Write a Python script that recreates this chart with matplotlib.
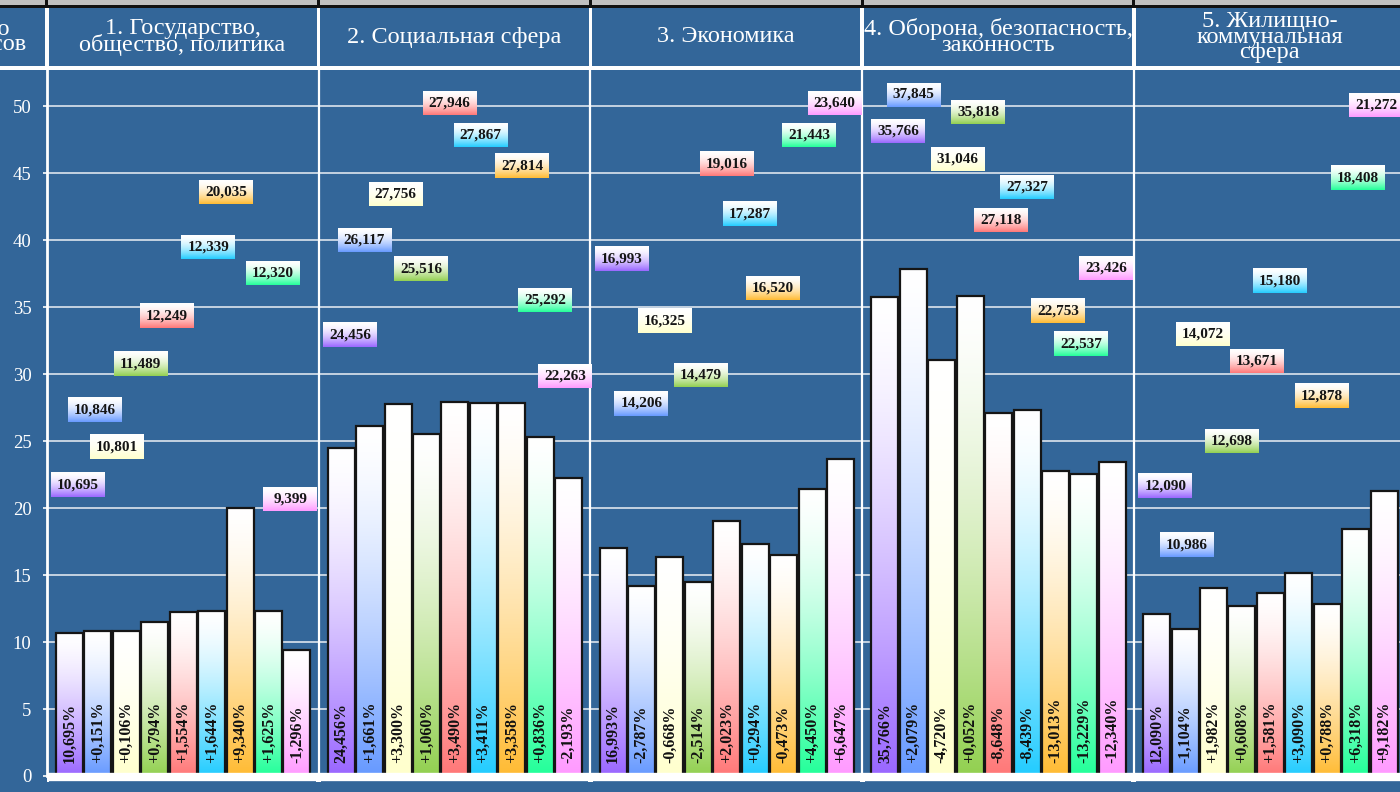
import numpy as np
import matplotlib
matplotlib.use("Agg")
import matplotlib.pyplot as plt
from matplotlib.patches import Rectangle
from matplotlib.colors import to_rgb

# ---------------- data ----------------
panel_titles = [
    "1. Государство,\nобщество, политика",
    "2. Социальная сфера",
    "3. Экономика",
    "4. Оборона, безопасность,\nзаконность",
    "5. Жилищно-\nкоммунальная\nсфера",
]
axis_title = "Число\nвопросов"

values_1 = [10.695, 10.846, 10.801, 11.489, 12.249, 12.339, 20.035, 12.320, 9.399]
values_2 = [24.456, 26.117, 27.756, 25.516, 27.946, 27.867, 27.814, 25.292, 22.263]
values_3 = [16.993, 14.206, 16.325, 14.479, 19.016, 17.287, 16.520, 21.443, 23.640]
values_4 = [35.766, 37.845, 31.046, 35.818, 27.118, 27.327, 22.753, 22.537, 23.426]
values_5 = [12.090, 10.986, 14.072, 12.698, 13.671, 15.180, 12.878, 18.408, 21.272]
values = [values_1, values_2, values_3, values_4, values_5]

y_ticks = [0, 5, 10, 15, 20, 25, 30, 35, 40, 45, 50]

series_colors = ["#9966ff", "#6699ff", "#ffffcc", "#92d050", "#ff7777",
                 "#22ccff", "#ffbb33", "#22ff99", "#ff99ff"]

# value-label placement (offset from bar centre in bar units, height in data units)
label_dx = [
    [0.30, -0.10, -0.33, -0.49, -0.57, -0.11, -0.50, 0.16, -0.24],
    [0.31, -0.18, -0.09, -0.18, -0.19, -0.09, 0.36, 0.16, -0.13],
    [0.30, 0.00, -0.17, 0.09, 0.01, -0.20, -0.39, -0.11, -0.21],
    [0.46, 0.02, 0.57, 0.29, 0.08, 0.00, 0.09, -0.10, -0.21],
    [0.31, 0.07, -0.37, -0.35, -0.47, -0.66, -0.18, 0.08, -0.28],
]
label_y = [
    [21.69, 27.33, 24.56, 30.76, 34.34, 39.50, 43.60, 37.55, 20.68],
    [32.96, 40.02, 43.45, 37.85, 50.28, 47.86, 45.54, 35.54, 29.86],
    [38.60, 27.81, 33.97, 29.94, 45.69, 41.96, 36.43, 47.86, 50.28],
    [48.16, 50.88, 46.10, 49.57, 41.51, 43.94, 34.72, 32.22, 37.93],
    [21.65, 17.28, 33.00, 25.01, 30.98, 36.92, 28.37, 44.61, 50.06],
]

# ---------------- layout ----------------
W, H = 1400, 792
BG = "#336699"
AX_L = 46.7
AX_TOP = 69.5
PITCH = 28.44
YSCALE = 13.394
Y0 = 776.0
PANEL_PX = 271.8
PANEL_W = PANEL_PX / PITCH
BAR_OFF = 8.5 / PITCH
BAR_W = 0.95
BOX_W = 54 / PITCH
BOX_H = 24 / YSCALE
SERIF = "Liberation Serif"


def fmt(v):
    return f"{v:.3f}".replace(".", ",")


def gradient(color, n=200, g=1.5):
    c = np.array(to_rgb(color))
    frac_from_top = 1 - np.linspace(0, 1, n)  # row 0 = bottom
    amt = frac_from_top ** g
    rgb = (1 - amt)[:, None] * np.ones(3) + amt[:, None] * c
    return rgb[:, None, :]


fig = plt.figure(figsize=(W / 100, H / 100), dpi=100, facecolor=BG)


def fx(px):
    return px / W


def fy(py):
    return 1 - py / H


# header decorations
fig.add_artist(Rectangle((0, fy(4.5)), 1, 4.5 / H, transform=fig.transFigure,
                         color="#c0c0c0", lw=0))
fig.add_artist(Rectangle((0, fy(7.5)), 1, 3 / H, transform=fig.transFigure,
                         color="#111111", lw=0))
fig.add_artist(Rectangle((0, fy(70)), 1, 3.5 / H, transform=fig.transFigure,
                         color="white", lw=0))
for p in range(5):
    xs = AX_L + p * PANEL_PX
    fig.add_artist(Rectangle((fx(xs - 1.5), fy(4.5)), 3 / W, 4.5 / H,
                             transform=fig.transFigure, color="#111111", lw=0))
    fig.add_artist(Rectangle((fx(xs - 1.8), fy(69)), 3.6 / W, 61.5 / H,
                             transform=fig.transFigure, color="white", lw=0))

for p, title in enumerate(panel_titles):
    cx = AX_L + (p + 0.5) * PANEL_PX
    fig.text(fx(cx), fy(37), title, ha="center", va="center", fontsize=17.5,
             color="white", family=SERIF, linespacing=0.68)
fig.text(fx(-21), fy(37), axis_title, ha="center", va="center", fontsize=17.5,
         color="white", family=SERIF, linespacing=0.68)

# axes
ax = fig.add_axes([AX_L / W, 0, (W - AX_L) / W, (H - AX_TOP) / H])
ax.set_facecolor(BG)
for s in ["top", "right", "bottom"]:
    ax.spines[s].set_visible(False)
ytop = (Y0 - AX_TOP) / YSCALE
ax.spines["left"].set_color("white")
ax.spines["left"].set_linewidth(2)
ax.spines["left"].set_bounds(0, ytop)
ax.set_xticks([])
ax.set_yticks(y_ticks)
ax.set_yticklabels([str(t) for t in y_ticks], family=SERIF, fontsize=13.5,
                   color="white")
ax.tick_params(axis="y", colors="white", length=3, width=1.2, pad=8,
               direction="out")
ax.grid(axis="y", color="white", lw=1.1, alpha=0.9, zorder=0.5)
ax.set_axisbelow(True)

ax.vlines([p * PANEL_W for p in range(1, 5)], 0, ytop, color="white", lw=1.6,
          zorder=1)

for p, vals in enumerate(values):
    base = vals[0]
    for j, v in enumerate(vals):
        x0 = p * PANEL_W + BAR_OFF + j + (1 - BAR_W) / 2
        cx = p * PANEL_W + BAR_OFF + j + 0.5
        col = series_colors[j]
        ax.imshow(gradient(col), extent=[x0, x0 + BAR_W, 0, v], origin="lower",
                  aspect="auto", interpolation="bilinear", zorder=2)
        ax.add_patch(Rectangle((x0, 0), BAR_W, v, fill=False, ec="#151515",
                               lw=1.6, zorder=3))
        if j == 0:
            ptxt = fmt(v) + "%"
        else:
            d = v - base
            sign = "+" if d >= 0 else "-"
            ptxt = sign + fmt(abs(d)) + "%"
        ax.text(cx, 1.0, ptxt, rotation=90, ha="center", va="bottom",
                fontsize=11.5, fontweight="bold", family=SERIF, color="#111111",
                zorder=4)
        # value label box
        lx = cx + label_dx[p][j]
        ly = label_y[p][j]
        ax.imshow(gradient(col, g=1.7),
                  extent=[lx - BOX_W / 2, lx + BOX_W / 2, ly - BOX_H / 2, ly + BOX_H / 2],
                  origin="lower", aspect="auto", interpolation="bilinear", zorder=6)
        ax.text(lx, ly, fmt(v), ha="center", va="center", fontsize=11,
                fontweight="bold", family=SERIF, color="#151515", zorder=7)

# baseline
ax.axhline(-0.07, color="white", lw=6, zorder=5)
nub_w = 5 / PITCH
for p in range(5):
    ax.add_patch(Rectangle((p * PANEL_W - nub_w / 2, -0.47), nub_w, 0.5,
                           color="white", lw=0, zorder=5))

ax.set_xlim(0, (W - AX_L) / PITCH)
ax.set_ylim((Y0 - H) / YSCALE, ytop)

fig.savefig("out.png", dpi=100, facecolor=BG)
